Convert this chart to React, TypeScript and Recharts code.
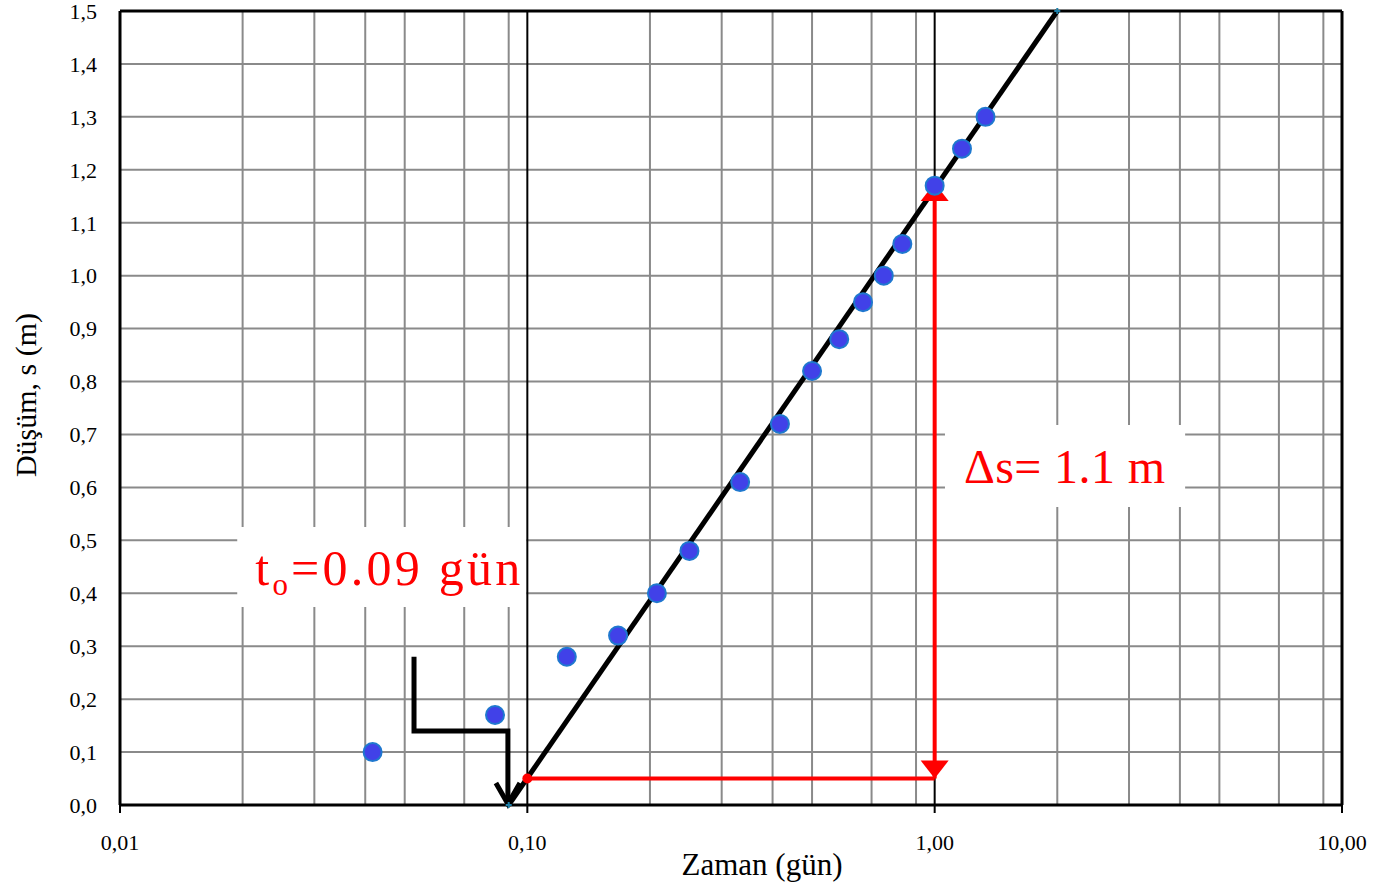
import React from "react";
import {
  ComposedChart,
  CartesianGrid,
  XAxis,
  YAxis,
  Line,
  Scatter,
  ReferenceLine,
  ReferenceArea,
} from "recharts";

// measured drawdown (time in days, drawdown in m)
const timeDays = [0.0417, 0.0833, 0.125, 0.167, 0.208, 0.25, 0.333, 0.417, 0.5, 0.583, 0.667, 0.75, 0.833, 1.0, 1.167, 1.333];
const drawdown = [0.1, 0.17, 0.28, 0.32, 0.4, 0.48, 0.61, 0.72, 0.82, 0.88, 0.95, 1.0, 1.06, 1.17, 1.24, 1.3];

// straight-line fit
const fitTime = [0.09, 2.0];
const fitDrawdown = [0, 1.5];

// Δs construction
const baseTime = [0.1, 1.0];
const baseDrawdown = [0.05, 0.05];
const deltaTime = [1.0, 1.0];
const deltaDrawdown = [0.05, 1.175];

// t0 pointer
const pointerTime = [0.0527, 0.0527, 0.0896, 0.0896];
const pointerDrawdown = [0.28, 0.14, 0.14, 0.0];

const xTicks = [0.01, 0.1, 1, 10];
const yTicks = [0, 0.1, 0.2, 0.3, 0.4, 0.5, 0.6, 0.7, 0.8, 0.9, 1.0, 1.1, 1.2, 1.3, 1.4, 1.5];
const minorX = [0.02, 0.03, 0.04, 0.05, 0.06, 0.07, 0.08, 0.09, 0.2, 0.3, 0.4, 0.5, 0.6, 0.7, 0.8, 0.9, 2, 3, 4, 5, 6, 7, 8, 9];
const decadeX = [0.1, 1];
const gridY = [0.1, 0.2, 0.3, 0.4, 0.5, 0.6, 0.7, 0.8, 0.9, 1.0, 1.1, 1.2, 1.3, 1.4];

const zip = (xs: number[], ys: number[]) => xs.map((t, i) => ({ t, s: ys[i] }));

const FONT = "'Liberation Serif', serif";
const RED = "#ff0000";
const GRID = "#8a8a8a";

const measured = zip(timeDays, drawdown);
const fit = zip(fitTime, fitDrawdown);
const base = zip(baseTime, baseDrawdown);
const delta = zip(deltaTime, deltaDrawdown);
const pointer = zip(pointerTime, pointerDrawdown);

const comma = (v: number, d: number) => v.toFixed(d).replace(".", ",");

export default function App() {
  return (
    <div style={{ position: "absolute", left: 0, top: 0, background: "#fff" }}>
      <ComposedChart
        width={1377}
        height={885}
        margin={{ top: 11, right: 35, left: 0, bottom: 0 }}
      >
        <CartesianGrid
          stroke={GRID}
          strokeWidth={2}
          verticalValues={minorX}
          horizontalValues={gridY}
        />
        <XAxis
          dataKey="t"
          type="number"
          scale="log"
          domain={[0.01, 10]}
          allowDataOverflow
          ticks={xTicks}
          tickFormatter={(v: number) => comma(v, 2)}
          height={80}
          axisLine={{ stroke: "#000", strokeWidth: 3 }}
          tickLine={{ stroke: "#000", strokeWidth: 2 }}
          tickSize={8}
          tickMargin={21}
          fontSize={22}
          fontFamily={FONT}
          tick={{ fontFamily: FONT, fontSize: 22, fill: "#000" }}
          label={(p: any) => (
            <text x={762} y={875} textAnchor="middle" fontFamily={FONT} fontSize={31} fill="#000">
              Zaman (gün)
            </text>
          )}
        />
        <YAxis
          dataKey="s"
          type="number"
          domain={[0, 1.5]}
          ticks={yTicks}
          interval={0}
          tickFormatter={(v: number) => comma(v, 1)}
          width={120}
          axisLine={{ stroke: "#000", strokeWidth: 3 }}
          tickLine={false}
          tickSize={0}
          tickMargin={23}
          fontSize={22}
          fontFamily={FONT}
          tick={{ fontFamily: FONT, fontSize: 22, fill: "#000" }}
          label={(p: any) => (
            <text
              x={36}
              y={395}
              textAnchor="middle"
              transform="rotate(-90 36 395)"
              fontFamily={FONT}
              fontSize={30}
              fill="#000"
            >
              Düşüm, s (m)
            </text>
          )}
        />

        <ReferenceArea
          x1={0.0194}
          x2={0.0995}
          y1={0.374}
          y2={0.525}
          fill="#fff"
          fillOpacity={1}
          stroke="none"
          label={(p: any) => {
            const vb = p.viewBox;
            return (
              <text
                x={vb.x + 18}
                y={vb.y + 58}
                fontFamily={FONT}
                fontSize={50}
                fill={RED}
                textLength={265}
                lengthAdjust="spacing"
              >
                <tspan>t</tspan>
                <tspan fontSize={31} dy={10}>o</tspan>
                <tspan dy={-10}>=0.09 gün</tspan>
              </text>
            );
          }}
        />
        <ReferenceArea
          x1={1.06}
          x2={4.12}
          y1={0.563}
          y2={0.718}
          fill="#fff"
          fillOpacity={1}
          stroke="none"
          label={(p: any) => {
            const vb = p.viewBox;
            return (
              <text
                x={vb.x + 19}
                y={vb.y + 58}
                fontFamily={FONT}
                fontSize={48}
                fill={RED}
                textLength={201}
                lengthAdjust="spacing"
              >
                Δs= 1.1 m
              </text>
            );
          }}
        />

        {decadeX.map((v) => (
          <ReferenceLine key={"dx" + v} x={v} stroke="#000" strokeWidth={2} />
        ))}
        <ReferenceLine x={10} stroke="#000" strokeWidth={3} />
        <ReferenceLine y={1.5} stroke="#000" strokeWidth={3} />

        <Line
          data={pointer}
          dataKey="s"
          stroke="#000"
          strokeWidth={5}
          isAnimationActive={false}
          activeDot={false}
          dot={(p: any) =>
            p.index === pointer.length - 1 ? (
              <polyline
                key={"pd" + p.index}
                points={`${p.cx - 12},${p.cy - 22} ${p.cx},${p.cy - 1} ${p.cx + 12},${p.cy - 22}`}
                fill="none"
                stroke="#000"
                strokeWidth={5}
              />
            ) : (
              <g key={"pd" + p.index} />
            )
          }
        />
        <Line
          data={fit}
          dataKey="s"
          stroke="#000"
          strokeWidth={5}
          isAnimationActive={false}
          activeDot={false}
          dot={(p: any) => (
            <path
              key={"fd" + p.index}
              d={`M${p.cx - 3},${p.cy}h6M${p.cx},${p.cy - 3}v6`}
              stroke="#1d7fa8"
              strokeWidth={2}
            />
          )}
        />
        <Line
          data={base}
          dataKey="s"
          stroke={RED}
          strokeWidth={4}
          isAnimationActive={false}
          activeDot={false}
          dot={(p: any) =>
            p.index === 0 ? (
              <circle key={"bd" + p.index} cx={p.cx} cy={p.cy} r={5} fill={RED} />
            ) : (
              <g key={"bd" + p.index} />
            )
          }
        />
        <Line
          data={delta}
          dataKey="s"
          stroke={RED}
          strokeWidth={4}
          isAnimationActive={false}
          activeDot={false}
          dot={(p: any) => {
            const dir = p.index === 0 ? -1 : 1;
            return (
              <polygon
                key={"dd" + p.index}
                points={`${p.cx - 14},${p.cy + dir * 18} ${p.cx + 14},${p.cy + dir * 18} ${p.cx},${p.cy}`}
                fill={RED}
              />
            );
          }}
        />

        <Scatter
          data={measured}
          isAnimationActive={false}
          shape={(p: any) => (
            <circle cx={p.cx} cy={p.cy} r={9} fill="#4141e8" stroke="#1f78cf" strokeWidth={2} />
          )}
        />
      </ComposedChart>
    </div>
  );
}
